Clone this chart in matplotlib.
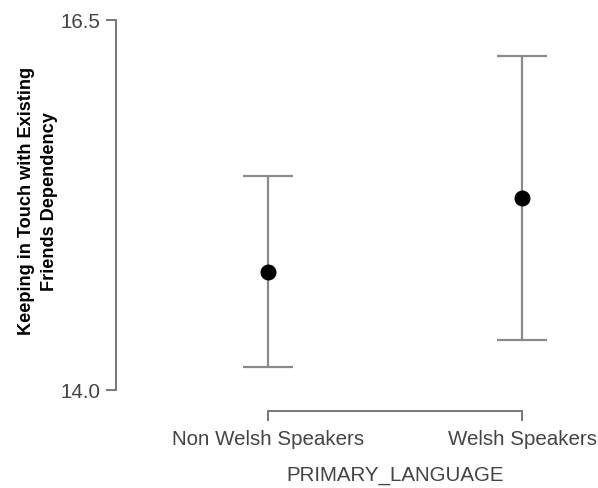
import matplotlib.pyplot as plt
from matplotlib.transforms import blended_transform_factory

# group means and half-width of the error bars
groups = ['Non Welsh Speakers', 'Welsh Speakers']
means = [14.80, 15.30]
half_ci = [0.645, 0.96]
y_ticks = [14.0, 16.5]
y_ticklabels = ['14.0', '16.5']

W, H = 598, 488
fig = plt.figure(figsize=(W / 100, H / 100), dpi=100)
# axes box in pixels: left, bottom, width, height
ax = fig.add_axes([116 / W, (H - 390) / H, (580 - 116) / W, (390 - 20) / H])

xpos = list(range(len(groups)))
ax.errorbar(xpos, means, yerr=half_ci, fmt='none', ecolor='#8a8a8a',
            elinewidth=1.6, capsize=18, capthick=1.6, zorder=2)
ax.plot(xpos, means, 'o', color='black', markersize=10.5, zorder=3)

ax.set_ylim(14.0, 16.5)
ax.set_xlim(-0.598, 1.228)

for s in ['top', 'right']:
    ax.spines[s].set_visible(False)
ax.spines['left'].set_bounds(14.0, 16.5)
ax.spines['bottom'].set_bounds(0, 1)
ax.spines['bottom'].set_position(('outward', 15))
for s in ['left', 'bottom']:
    ax.spines[s].set_color('#777777')
    ax.spines[s].set_linewidth(1.4)

ax.set_yticks(y_ticks, labels=y_ticklabels)
ax.set_xticks(xpos, labels=groups)
ax.tick_params(axis='both', direction='out', length=7.5, width=1.4,
               color='#777777', labelcolor='#444444', labelsize=14.8)
ax.tick_params(axis='y', pad=4)
ax.tick_params(axis='x', pad=6)
for t in ax.get_xticklabels() + ax.get_yticklabels():
    t.set_fontfamily('Liberation Sans')

ax.set_xlabel('PRIMARY_LANGUAGE', fontsize=14.8, color='#444444',
              family='Liberation Sans')
ax.xaxis.set_label_coords(0.5, -0.205,
                          transform=blended_transform_factory(ax.transData, ax.transAxes))
ax.set_ylabel('Keeping in Touch with Existing\nFriends Dependency',
              fontsize=13.1, fontweight='bold', color='black',
              family='Liberation Sans', linespacing=1.45)
ax.yaxis.set_label_coords(-0.125, 0.51)

fig.savefig('out.png', dpi=100)
